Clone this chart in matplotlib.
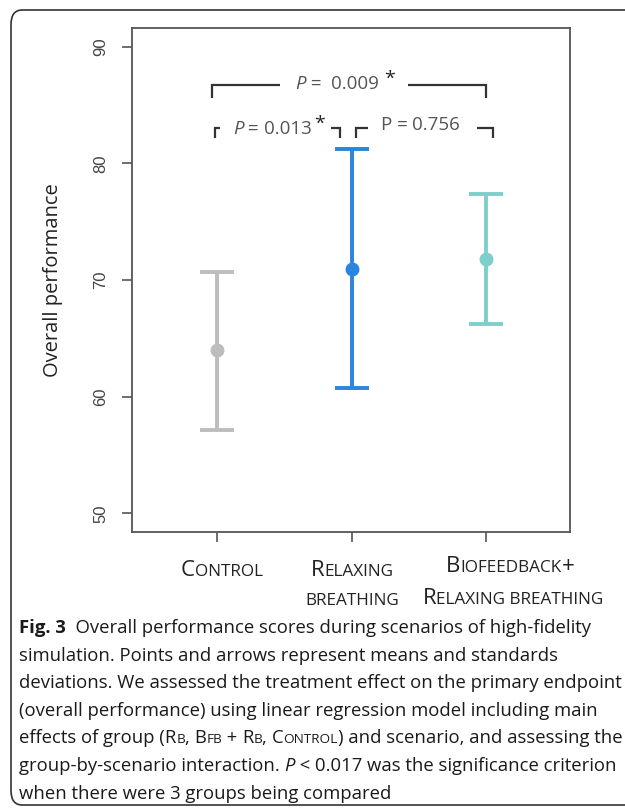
import matplotlib
matplotlib.use('Agg')
import matplotlib.pyplot as plt
from matplotlib.offsetbox import TextArea, HPacker, AnnotationBbox
from matplotlib.patches import FancyBboxPatch

# ── Data ───────────────────────────────────────────────────────────────────
groups = ['Control', 'Relaxing breathing', 'Biofeedback + relaxing breathing']
means = [64.0, 70.9, 71.8]
upper = [70.7, 81.2, 77.4]
lower = [57.1, 60.7, 66.2]
colors = ['#bdbdbd', '#2b84e0', '#7dcfcc']
y_ticks = [50, 60, 70, 80, 90]
p_labels = ['0.009', '0.013', '0.756']

FONT = 'Open Sans'
plt.rcParams['font.family'] = [FONT, 'DejaVu Sans']

fig = plt.figure(figsize=(6.25, 8.09), dpi=100)
ax = fig.add_axes([0.2112, 0.3424, 0.7008, 0.623])


def mixed(parent, xy, pieces, align=(0.5, 0.5), coords='data', color='#222222'):
    """Draw a run of text pieces with different sizes/styles on one baseline."""
    kids = []
    for txt, size, extra in pieces:
        props = dict(fontsize=size, color=color, family=[FONT, 'DejaVu Sans'])
        props.update(extra)
        kids.append(TextArea(txt, textprops=props))
    box = HPacker(children=kids, align='baseline', pad=0, sep=0)
    ab = AnnotationBbox(box, xy, xycoords=coords, frameon=False,
                        box_alignment=align, pad=0, annotation_clip=False)
    parent.add_artist(ab)
    return ab


# ── Error bars ─────────────────────────────────────────────────────────────
x = [1, 2, 3]
for i in range(3):
    ax.errorbar(x[i], means[i],
                yerr=[[means[i] - lower[i]], [upper[i] - means[i]]],
                fmt='o', color=colors[i], ecolor=colors[i], markersize=9,
                elinewidth=2.8, capsize=12, capthick=2.8, zorder=3)

ax.set_xlim(0.37, 3.62)
ax.set_ylim(48.4, 91.6)
ax.set_yticks(y_ticks)
ax.set_yticklabels([str(t) for t in y_ticks], rotation=90, va='center',
                   fontsize=12, color='#444444', family='Liberation Sans')
ax.set_xticks(x)
ax.set_xticklabels([])
ax.tick_params(axis='both', direction='out', length=7, width=1.2,
               color='#555555', pad=10)
for s in ax.spines.values():
    s.set_color('#555555')
    s.set_linewidth(1.3)
ax.set_ylabel('Overall performance', fontsize=14.5, color='#222222', labelpad=22)

# ── Significance brackets ──────────────────────────────────────────────────
bk = dict(color='#333333', lw=1.6, solid_capstyle='butt', solid_joinstyle='miter',
          clip_on=False)
# overall comparison
ax.plot([0.965, 0.965, 1.47], [85.6, 86.7, 86.7], **bk)
ax.plot([2.42, 3.0, 3.0], [86.7, 86.7, 85.6], **bk)
# control vs relaxing
ax.plot([0.985, 0.985, 1.02], [82.2, 83.0, 83.0], **bk)
ax.plot([1.85, 1.91, 1.91], [83.0, 83.0, 82.2], **bk)
# relaxing vs biofeedback
ax.plot([2.03, 2.03, 2.12], [82.2, 83.0, 83.0], **bk)
ax.plot([2.93, 3.05, 3.05], [83.0, 83.0, 82.2], **bk)

PS = 13.5
ital = dict(style='italic')
mixed(ax, (1.89, 86.8), [('P', PS, ital), (' =  ', PS, {}), (p_labels[0], PS, {})],
      color='#555555')
ax.text(2.28, 87.2, '*', fontsize=14, color='#222222', ha='center', va='center')
mixed(ax, (1.41, 82.95), [('P', PS, ital), (' = ', PS, {}), (p_labels[1], PS, {})],
      color='#555555')
ax.text(1.765, 83.35, '*', fontsize=14, color='#222222', ha='center', va='center')
mixed(ax, (2.51, 83.3), [('P = ', PS, {}), (p_labels[2], PS, {})],
      color='#555555')

# ── Group labels in small caps ─────────────────────────────────────────────
BIG, SMALL = 16, 12.3
lab = dict(align=(0.5, 0.5), coords='figure pixels')
mixed(fig, (222, 809 - 570), [('C', BIG, {}), ('ONTROL', SMALL, {})], **lab)
mixed(fig, (352, 809 - 571), [('R', BIG, {}), ('ELAXING', SMALL, {})], **lab)
mixed(fig, (352, 809 - 601), [('BREATHING', SMALL, {})], **lab)
mixed(fig, (510, 809 - 567), [('B', BIG, {}), ('IOFEEDBACK', SMALL, {}), ('+', BIG, {})], **lab)
mixed(fig, (513, 809 - 599), [('R', BIG, {}), ('ELAXING BREATHING', SMALL, {})], **lab)

# ── Caption ────────────────────────────────────────────────────────────────
CAP = 13.3
SC = 9.7
cap_lines = [
    [('Fig. 3', CAP, dict(weight='bold')),
     ('  Overall performance scores during scenarios of high-fidelity', CAP, {})],
    [('simulation. Points and arrows represent means and standards', CAP, {})],
    [('deviations. We assessed the treatment effect on the primary endpoint', CAP, {})],
    [('(overall performance) using linear regression model including main', CAP, {})],
    [('effects of group (', CAP, {}), ('R', CAP, {}), ('B', SC, {}), (', ', CAP, {}),
     ('B', CAP, {}), ('FB', SC, {}), (' + ', CAP, {}), ('R', CAP, {}), ('B', SC, {}),
     (', ', CAP, {}), ('C', CAP, {}), ('ONTROL', SC, {}),
     (') and scenario, and assessing the', CAP, {})],
    [('group-by-scenario interaction. ', CAP, {}), ('P', CAP, ital),
     (' < 0.017 was the significance criterion', CAP, {})],
    [('when there were 3 groups being compared', CAP, {})],
]
for k, line in enumerate(cap_lines):
    mixed(fig, (19, 809 - (628 + k * 27.6)), line, align=(0, 0.5),
          coords='figure pixels', color='#1a1a1a')

# ── Outer rounded frame (right side runs off the canvas) ───────────────────
frame = FancyBboxPatch((11 / 625, 4 / 809), 700 / 625, 795 / 809,
                       boxstyle='round,pad=0,rounding_size=0.018',
                       transform=fig.transFigure, fill=False,
                       edgecolor='#333333', lw=1.2)
fig.patches.append(frame)

fig.savefig('out.png', dpi=100)
